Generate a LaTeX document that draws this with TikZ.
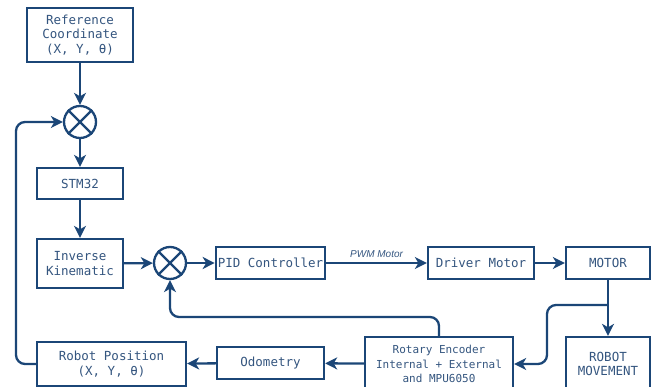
\documentclass[tikz,border=0pt]{standalone}
\usepackage{fontspec}
\setmonofont{DejaVu Sans Mono}
\setsansfont{Liberation Sans}
\usetikzlibrary{arrows.meta}
\definecolor{lineblue}{HTML}{1B4677}
\definecolor{textblue}{HTML}{34557F}

\tikzset{
	block/.style = {draw=lineblue, line width=2.3pt, fill=white, text=textblue, align=center,
		font=\ttfamily\fontsize{12.5}{14.5}\selectfont, inner sep=2pt},
	sumnode/.style = {draw=lineblue, line width=2.3pt, circle, minimum size=32pt, inner sep=0pt},
	line/.style = {draw=lineblue, line width=2.3pt, rounded corners=9pt},
	arr/.style = {line, -{Stealth[length=12pt,width=12pt,inset=3.5pt]}}
}

\begin{document}
\begin{tikzpicture}[x=1pt, y=-1pt]
			\useasboundingbox (0,0) rectangle (655,387);
			% blocks
			\node [block, minimum width=106pt, minimum height=54pt] (ref) at (80,35) {Reference\\Coordinate\\(X, Y, θ)};
			\node [sumnode] (sum1) at (80,122) {};
			\node [block, minimum width=86pt, minimum height=31pt] (stm) at (80,183.5) {STM32};
			\node [block, minimum width=86pt, minimum height=49pt] (ik) at (80,263.5) {Inverse\\Kinematic};
			\node [sumnode] (sum2) at (170,263) {};
			\node [block, minimum width=107pt, minimum height=32pt] (pid) at (270.5,263) {PID Controller};
			\node [block, minimum width=106pt, minimum height=32pt] (driver) at (481,263) {Driver Motor};
			\node [block, minimum width=84pt, minimum height=32pt] (motor) at (608,263) {MOTOR};
			\node [block, minimum width=84pt, minimum height=54pt] (movement) at (608,364) {ROBOT\\MOVEMENT};
			\node [block, minimum width=148pt, minimum height=54pt, font=\ttfamily\fontsize{11}{14.5}\selectfont] (encoder) at (439,364) {Rotary Encoder\\Internal + External\\and MPU6050};
			\node [block, minimum width=107pt, minimum height=32pt] (odo) at (270.5,363) {Odometry};
			\node [block, minimum width=149pt, minimum height=44pt] (pos) at (111.5,364) {Robot Position\\(X, Y, θ)};
			% crosses in the summing points
			\draw [line] (sum1.north west) -- (sum1.south east);
			\draw [line] (sum1.north east) -- (sum1.south west);
			\draw [line] (sum2.north west) -- (sum2.south east);
			\draw [line] (sum2.north east) -- (sum2.south west);
			% forward path
			\draw [arr] (ref) -- (sum1);
			\draw [arr] (sum1) -- (stm);
			\draw [arr] (stm) -- (ik);
			\draw [arr] (ik) -- (sum2);
			\draw [arr] (sum2) -- (pid);
			\draw [arr] (pid) -- node [above=1pt, text=textblue, font=\sffamily\itshape\fontsize{10}{11}\selectfont] {PWM Motor} (driver);
			\draw [arr] (driver) -- (motor);
			\draw [arr] (motor) -- (movement);
			% feedback
			\coordinate (split) at (608,305);
			\draw [arr] (split) -- (547,305) -- (547,364) -- (encoder.east);
			\draw [arr] (encoder) -- (odo);
			\draw [arr] (odo) -- (pos);
			\draw [arr] (pos.west) -- (16,364) -- (16,122) -- (sum1.west);
			\draw [arr] (encoder.north) -- (439,317) -- (170,317) -- (sum2.south);
		\end{tikzpicture}
\end{document}
